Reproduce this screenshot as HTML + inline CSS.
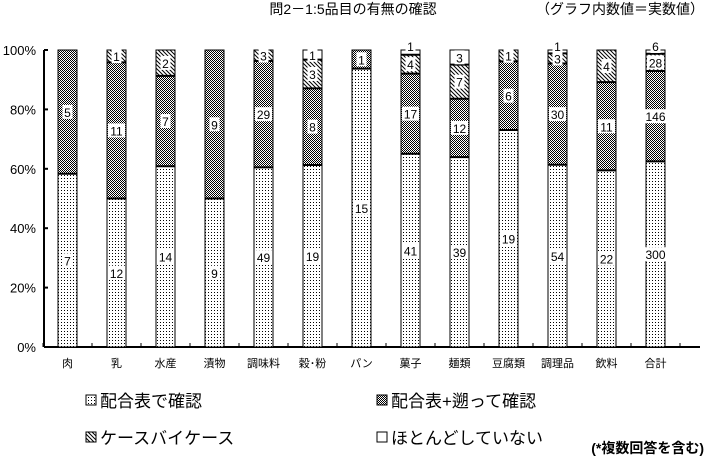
<!DOCTYPE html>
<html><head><meta charset="utf-8"><style>
body{margin:0;background:#fff}
svg{display:block;font-family:"Liberation Sans","Noto Sans CJK JP",sans-serif}
</style></head><body>
<svg id="chart" width="706" height="457" viewBox="0 0 706 457" xmlns="http://www.w3.org/2000/svg">
<defs>
<pattern id="p0" width="3" height="3" patternUnits="userSpaceOnUse"><rect width="3" height="3" fill="#fff"/><rect x="1" y="1" width="1" height="1" fill="#000"/></pattern>
<pattern id="p1" width="2" height="2" patternUnits="userSpaceOnUse"><rect width="2" height="2" fill="#fff"/><rect width="1" height="1" fill="#000"/><rect x="1" y="1" width="1" height="1" fill="#000"/></pattern>
<pattern id="p2" width="4" height="4" patternUnits="userSpaceOnUse"><rect width="4" height="4" fill="#fff"/><path d="M0,0 L4,4 M-1,3 L1,5 M3,-1 L5,1" stroke="#000" stroke-width="1"/></pattern>
</defs>
<text x="353" y="14" font-size="14" text-anchor="middle">問2－1:5品目の有無の確認</text>
<text x="704" y="14" font-size="14" text-anchor="end">（グラフ内数値＝実数値）</text>
<g id="plot"></g>
<g font-size="17">
<rect x="86" y="395" width="10" height="10" fill="url(#p0)" stroke="#000"/>
<text x="100" y="407">配合表で確認</text>
<rect x="377" y="395" width="10" height="10" fill="url(#p1)" stroke="#000"/>
<text x="391" y="407">配合表+遡って確認</text>
<rect x="86" y="432" width="10" height="10" fill="url(#p2)" stroke="#000"/>
<text x="100" y="444">ケースバイケース</text>
<rect x="377" y="432" width="10" height="10" fill="#fff" stroke="#000"/>
<text x="391" y="444">ほとんどしていない</text>
</g>
<text x="704" y="453" font-size="14" font-weight="bold" text-anchor="end">(*複数回答を含む)</text>
</svg>
<script>
const categories=["肉","乳","水産","漬物","調味料","穀･粉","パン","菓子","麺類","豆腐類","調理品","飲料","合計"];
const s0=[7,12,14,9,49,19,15,41,39,19,54,22,300];
const s1=[5,11,7,9,29,8,1,17,12,6,30,11,146];
const s2=[0,1,2,0,3,3,0,4,7,1,3,4,28];
const s3=[0,0,0,0,0,1,0,1,3,0,1,0,6];
const yTicks=[0,20,40,60,80,100];
const series=[s0,s1,s2,s3];
const fills=["url(#p0)","url(#p1)","url(#p2)","#fff"];
const NS="http://www.w3.org/2000/svg";
const g=document.getElementById("plot");
const X0=44,X1=700,Y0=347,Y1=50;
const FIRST=67.5,step=49;
const y=v=>Y0-(Y0-Y1)*v/100;
const xc=i=>FIRST+step*i;
function mk(t,a){const e=document.createElementNS(NS,t);for(const k in a)e.setAttribute(k,a[k]);g.appendChild(e);return e;}
let ax=mk("line",{x1:X0,y1:Y1,x2:X0,y2:Y0,stroke:"#000","stroke-width":2});


let bx=mk("line",{x1:X0,y1:Y0,x2:X1,y2:Y0,stroke:"#000","stroke-width":2});


yTicks.forEach(t=>{
 let l=mk("line",{x1:X0,x2:X0+4,y1:y(t),y2:y(t),stroke:"#000","stroke-width":2});
 
 
 let tx=mk("text",{x:X0-8,y:y(t)+5,"font-size":13,"text-anchor":"end"});
 tx.textContent=t+"%";
 
 
});
for(let i=0;i<=categories.length;i++){
 const xx=FIRST-step/2+step*i;
 let l=mk("line",{x1:xx,x2:xx,y1:Y0,y2:Y0-4,stroke:"#000","stroke-width":1});
 
 
}
categories.forEach((c,i)=>{
 const tot=s0[i]+s1[i]+s2[i]+s3[i];
 let cum=0;const bw=19,bxl=xc(i)-bw/2;
 const segs=[];
 series.forEach((s,k)=>{
  const v=s[i];if(!v){return;}
  const top=y((cum+v)/tot*100),bot=y(cum/tot*100);
  let r=mk("rect",{x:bxl,y:top,width:bw,height:bot-top,fill:fills[k],stroke:"#000","stroke-width":1});
  
  
  if(cum>0){mk("line",{x1:bxl,x2:bxl+bw,y1:bot,y2:bot,stroke:"#000","stroke-width":2});}
  segs.push([v,top,bot]);cum+=v;
 });
 segs.forEach(([v,top,bot])=>{
  const h=bot-top;let cy=(top+bot)/2;
  if(h<9)cy=top-4;
  const w=String(v).length*7+3;
  let bg=mk("rect",{x:xc(i)-w/2,y:cy-7,width:w,height:14,fill:"#fff"});
  
  
  let t=mk("text",{x:xc(i),y:cy+5,"font-size":12,"text-anchor":"middle"});
  t.textContent=v;
  
  
 });
 let lb=mk("text",{x:xc(i),y:367,"font-size":11,"text-anchor":"middle"});
 lb.textContent=c;
 
 
});
</script>
</body></html>
